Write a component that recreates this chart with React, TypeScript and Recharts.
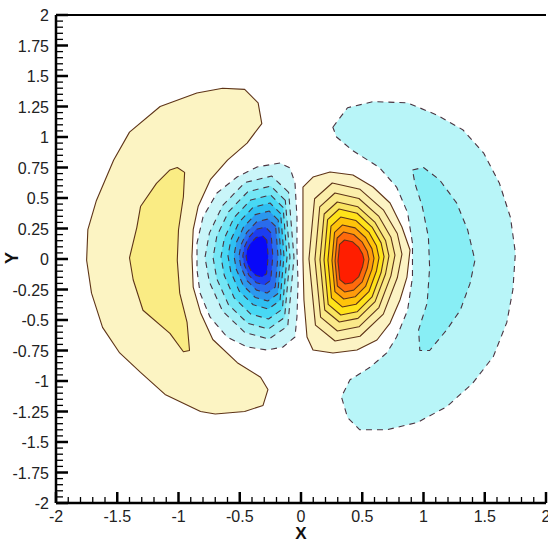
import React from 'react';
import { ScatterChart, Scatter, XAxis, YAxis, ReferenceLine } from 'recharts';

type P = [number, number];

// ---- tick values ----
const xTicks = [-2, -1.9, -1.8, -1.7, -1.6, -1.5, -1.4, -1.3, -1.2, -1.1, -1, -0.9, -0.8, -0.7, -0.6, -0.5, -0.4, -0.3, -0.2, -0.1, 0,
  0.1, 0.2, 0.3, 0.4, 0.5, 0.6, 0.7, 0.8, 0.9, 1, 1.1, 1.2, 1.3, 1.4, 1.5, 1.6, 1.7, 1.8, 1.9, 2];
const xLabels = [-2, -1.5, -1, -0.5, 0, 0.5, 1, 1.5, 2];
const yTicks = [-2, -1.95, -1.9, -1.85, -1.8, -1.75, -1.7, -1.65, -1.6, -1.55, -1.5, -1.45, -1.4, -1.35, -1.3, -1.25, -1.2, -1.15, -1.1, -1.05,
  -1, -0.95, -0.9, -0.85, -0.8, -0.75, -0.7, -0.65, -0.6, -0.55, -0.5, -0.45, -0.4, -0.35, -0.3, -0.25, -0.2, -0.15, -0.1, -0.05, 0,
  0.05, 0.1, 0.15, 0.2, 0.25, 0.3, 0.35, 0.4, 0.45, 0.5, 0.55, 0.6, 0.65, 0.7, 0.75, 0.8, 0.85, 0.9, 0.95, 1,
  1.05, 1.1, 1.15, 1.2, 1.25, 1.3, 1.35, 1.4, 1.45, 1.5, 1.55, 1.6, 1.65, 1.7, 1.75, 1.8, 1.85, 1.9, 1.95, 2];
const yLabels = [-2, -1.75, -1.5, -1.25, -1, -0.75, -0.5, -0.25, 0, 0.25, 0.5, 0.75, 1, 1.25, 1.5, 1.75, 2];

// ---- outer crescents ----
const leftCrescentOuter: P[] = [[-0.85, 1.36], [-0.64, 1.40], [-0.46, 1.39], [-0.35, 1.28], [-0.32, 1.11], [-0.44, 0.95], [-0.60, 0.81], [-0.74, 0.65], [-0.84, 0.43], [-0.88, 0.24], [-0.89, 0.02], [-0.88, -0.23], [-0.82, -0.44], [-0.72, -0.66], [-0.52, -0.85], [-0.33, -0.97], [-0.27, -1.07], [-0.31, -1.20], [-0.46, -1.25], [-0.70, -1.27], [-0.82, -1.25], [-1.11, -1.11], [-1.31, -0.93], [-1.48, -0.77], [-1.62, -0.56], [-1.71, -0.28], [-1.75, -0.01], [-1.74, 0.24], [-1.67, 0.48], [-1.53, 0.81], [-1.40, 1.04], [-1.15, 1.25]];
const leftCrescentInner: P[] = [[-1.01, 0.75], [-0.95, 0.71], [-0.96, 0.51], [-1.00, 0.24], [-1.01, -0.01], [-0.99, -0.28], [-0.93, -0.52], [-0.91, -0.75], [-0.96, -0.76], [-1.07, -0.61], [-1.29, -0.42], [-1.37, -0.17], [-1.40, 0.01], [-1.34, 0.26], [-1.31, 0.43], [-1.18, 0.62], [-1.07, 0.73]];
const rightCrescentOuter: P[] = [[0.26, 1.08], [0.38, 1.24], [0.59, 1.29], [0.87, 1.28], [1.11, 1.18], [1.32, 1.06], [1.49, 0.87], [1.62, 0.62], [1.71, 0.34], [1.75, 0.05], [1.73, -0.25], [1.68, -0.52], [1.57, -0.80], [1.40, -1.02], [1.19, -1.21], [0.95, -1.34], [0.70, -1.40], [0.48, -1.40], [0.38, -1.30], [0.33, -1.13], [0.40, -0.99], [0.56, -0.89], [0.70, -0.77], [0.78, -0.64], [0.87, -0.42], [0.91, -0.15], [0.91, 0.13], [0.87, 0.38], [0.78, 0.59], [0.64, 0.75], [0.42, 0.89], [0.29, 1.00]];
const rightCrescentInner: P[] = [[0.91, 0.73], [1.00, 0.75], [1.13, 0.65], [1.27, 0.46], [1.36, 0.24], [1.42, -0.01], [1.38, -0.20], [1.30, -0.42], [1.19, -0.58], [1.05, -0.75], [0.97, -0.75], [0.96, -0.58], [1.03, -0.36], [1.05, -0.07], [1.04, 0.18], [0.99, 0.43], [0.93, 0.62]];

// ---- positive (right) blob levels ----
const pos1: P[] = [[0.016, 0.590], [0.098, 0.672], [0.237, 0.713], [0.424, 0.689], [0.588, 0.590], [0.727, 0.459], [0.824, 0.262], [0.890, 0.074], [0.865, -0.148], [0.808, -0.336], [0.727, -0.525], [0.620, -0.664], [0.457, -0.746], [0.261, -0.770], [0.098, -0.746], [0.049, -0.639], [0.024, -0.336], [0.016, -0.008], [0.016, 0.344]];
const pos2: P[] = [[0.111, 0.494], [0.255, 0.623], [0.482, 0.571], [0.672, 0.403], [0.786, 0.209], [0.824, 0.040], [0.786, -0.154], [0.672, -0.452], [0.482, -0.633], [0.278, -0.672], [0.118, -0.542], [0.065, 0.001]];
const pos3: P[] = [[0.153, 0.428], [0.277, 0.541], [0.473, 0.496], [0.636, 0.349], [0.734, 0.179], [0.767, 0.032], [0.734, -0.138], [0.636, -0.398], [0.473, -0.556], [0.297, -0.590], [0.160, -0.477], [0.114, -0.002]];
const pos4: P[] = [[0.189, 0.369], [0.296, 0.467], [0.465, 0.428], [0.605, 0.300], [0.690, 0.152], [0.718, 0.025], [0.690, -0.123], [0.605, -0.349], [0.465, -0.487], [0.313, -0.516], [0.194, -0.418], [0.155, -0.005]];
const pos5: P[] = [[0.217, 0.323], [0.311, 0.410], [0.458, 0.375], [0.580, 0.262], [0.654, 0.132], [0.678, 0.019], [0.654, -0.111], [0.580, -0.311], [0.458, -0.433], [0.325, -0.459], [0.222, -0.372], [0.188, -0.007]];
const pos6: P[] = [[0.245, 0.270], [0.324, 0.344], [0.449, 0.315], [0.554, 0.219], [0.616, 0.108], [0.637, 0.012], [0.616, -0.098], [0.554, -0.268], [0.449, -0.371], [0.337, -0.393], [0.249, -0.319], [0.220, -0.010]];
const pos7: P[] = [[0.274, 0.218], [0.339, 0.279], [0.442, 0.255], [0.527, 0.176], [0.579, 0.085], [0.596, 0.006], [0.579, -0.085], [0.527, -0.225], [0.442, -0.310], [0.349, -0.328], [0.277, -0.267], [0.253, -0.012]];
const pos8: P[] = [[0.295, 0.172], [0.347, 0.221], [0.430, 0.201], [0.500, 0.138], [0.541, 0.064], [0.555, 0.000], [0.541, -0.074], [0.500, -0.187], [0.430, -0.255], [0.356, -0.270], [0.297, -0.221], [0.278, -0.015]];
const pos9: P[] = [[0.315, 0.120], [0.355, 0.156], [0.419, 0.142], [0.472, 0.095], [0.503, 0.040], [0.514, -0.006], [0.503, -0.061], [0.472, -0.144], [0.419, -0.194], [0.361, -0.205], [0.317, -0.169], [0.302, -0.017]];

// ---- negative (left) blob levels ----
const neg1: P[] = [[-0.171, 0.787], [-0.359, 0.754], [-0.522, 0.672], [-0.686, 0.541], [-0.800, 0.344], [-0.849, 0.131], [-0.849, -0.090], [-0.824, -0.279], [-0.743, -0.475], [-0.604, -0.639], [-0.441, -0.721], [-0.278, -0.746], [-0.147, -0.721], [-0.049, -0.639], [-0.033, -0.475], [-0.024, -0.197], [-0.033, 0.074], [-0.033, 0.344], [-0.049, 0.623], [-0.090, 0.746]];
const neg2: P[] = [[-0.101, 0.546], [-0.239, 0.680], [-0.457, 0.627], [-0.639, 0.440], [-0.748, 0.212], [-0.784, 0.012], [-0.748, -0.188], [-0.639, -0.429], [-0.457, -0.603], [-0.261, -0.656], [-0.108, -0.549], [-0.057, 0.012]];
const neg3: P[] = [[-0.128, 0.481], [-0.247, 0.598], [-0.435, 0.551], [-0.592, 0.387], [-0.687, 0.188], [-0.718, 0.012], [-0.687, -0.164], [-0.592, -0.375], [-0.435, -0.527], [-0.266, -0.574], [-0.134, -0.480], [-0.090, 0.012]];
const neg4: P[] = [[-0.146, 0.423], [-0.249, 0.525], [-0.410, 0.484], [-0.545, 0.342], [-0.626, 0.169], [-0.653, 0.017], [-0.626, -0.136], [-0.545, -0.319], [-0.410, -0.451], [-0.265, -0.492], [-0.152, -0.411], [-0.114, 0.017]];
const neg5: P[] = [[-0.166, 0.372], [-0.253, 0.459], [-0.390, 0.424], [-0.505, 0.303], [-0.573, 0.155], [-0.596, 0.025], [-0.573, -0.106], [-0.505, -0.262], [-0.390, -0.375], [-0.267, -0.410], [-0.171, -0.340], [-0.139, 0.025]];
const neg6: P[] = [[-0.186, 0.319], [-0.259, 0.393], [-0.374, 0.364], [-0.470, 0.260], [-0.528, 0.135], [-0.547, 0.025], [-0.528, -0.086], [-0.470, -0.219], [-0.374, -0.315], [-0.271, -0.344], [-0.190, -0.285], [-0.163, 0.025]];
const neg7: P[] = [[-0.207, 0.267], [-0.268, 0.328], [-0.363, 0.304], [-0.442, 0.219], [-0.490, 0.116], [-0.506, 0.025], [-0.490, -0.067], [-0.442, -0.176], [-0.363, -0.255], [-0.277, -0.279], [-0.210, -0.230], [-0.188, 0.025]];
const neg8: P[] = [[-0.245, 0.215], [-0.291, 0.262], [-0.365, 0.243], [-0.426, 0.177], [-0.463, 0.096], [-0.475, 0.025], [-0.463, -0.047], [-0.426, -0.132], [-0.365, -0.194], [-0.299, -0.213], [-0.247, -0.175], [-0.230, 0.025]];
const neg9: P[] = [[-0.279, 0.155], [-0.313, 0.189], [-0.367, 0.176], [-0.412, 0.128], [-0.439, 0.071], [-0.448, 0.021], [-0.439, -0.030], [-0.412, -0.091], [-0.367, -0.135], [-0.318, -0.148], [-0.281, -0.121], [-0.268, 0.021]];

const posLevels = [pos1, pos2, pos3, pos4, pos5, pos6, pos7, pos8, pos9];
const posFills = ['#fcf3c4', '#fbeeaa', '#fae98a', '#f9e460', '#ffe31a', '#ffc40a', '#ff9b0c', '#ff6a0c', '#ff1e00'];
const negLevels = [neg1, neg2, neg3, neg4, neg5, neg6, neg7, neg8, neg9];
const negFills = ['#c9f5f9', '#a0eff7', '#74e6f5', '#48d8f4', '#2fc0f2', '#2c98ee', '#2a6cec', '#1c3ef0', '#0808f8'];

const SOLID = '#5e3418';
const DASHED = '#4a3440';

type Contour = { id: string; pts: P[]; fill: string; dashed: boolean };

const contours: Contour[] = [
  { id: 'lco', pts: leftCrescentOuter, fill: '#fcf4c3', dashed: false },
  { id: 'lci', pts: leftCrescentInner, fill: '#faec84', dashed: false },
  { id: 'rco', pts: rightCrescentOuter, fill: '#b8f5f8', dashed: true },
  { id: 'rci', pts: rightCrescentInner, fill: '#88eef5', dashed: true },
  ...posLevels.map((pts, i) => ({ id: 'p' + i, pts, fill: posFills[i], dashed: false })),
  ...negLevels.map((pts, i) => ({ id: 'n' + i, pts, fill: negFills[i], dashed: true })),
];

const FONT = '"Liberation Sans", Arial, Helvetica, sans-serif';
const fmt = (v: number) => String(Number(v.toFixed(2)));
const isIn = (arr: number[], v: number) => arr.some((a) => Math.abs(a - v) < 1e-6);

const XTick = (props: any) => {
  const { x, y, payload } = props;
  const v = payload.value as number;
  const major = isIn(xLabels, v);
  return (
    <g>
      <line x1={x} y1={y} x2={x} y2={y - (major ? 11 : 6)} stroke="#000" strokeWidth={major ? 2.5 : 1.3} />
      {major && (
        <text x={x} y={y + 19} textAnchor="middle" fontSize={16} fontFamily={FONT} fill="#222">{fmt(v)}</text>
      )}
    </g>
  );
};

const YTick = (props: any) => {
  const { x, y, payload } = props;
  const v = payload.value as number;
  const major = isIn(yLabels, v);
  return (
    <g>
      <line x1={x} y1={y} x2={x + (major ? 12 : 7)} y2={y} stroke="#000" strokeWidth={major ? 2.5 : 1.3} />
      {major && (
        <text x={x - 7} y={y + 6} textAnchor="end" fontSize={16} fontFamily={FONT} fill="#222">{fmt(v)}</text>
      )}
    </g>
  );
};

const closedShape = (fill: string, dashed: boolean) => (props: any) => {
  const pts: { x: number; y: number }[] = props.points || [];
  const d = pts.map((p, i) => `${i ? 'L' : 'M'}${p.x},${p.y}`).join(' ') + ' Z';
  return (
    <path
      d={d}
      fill={fill}
      stroke={dashed ? DASHED : SOLID}
      strokeWidth={1.1}
      strokeDasharray={dashed ? '6 5' : undefined}
      strokeLinejoin="round"
    />
  );
};

export default function App() {
  return (
    <div style={{ position: 'absolute', left: 0, top: 0, width: 548, height: 540, background: '#fff', overflow: 'hidden' }}>
      <ScatterChart width={548} height={540} margin={{ top: 15, right: 2, bottom: 0, left: 0 }}>
        <XAxis
          type="number"
          dataKey="x"
          domain={[-2, 2]}
          ticks={xTicks}
          interval={0}
          allowDataOverflow
          height={37}
          tickSize={0}
          tickMargin={0}
          tickLine={false}
          axisLine={{ stroke: '#000', strokeWidth: 2.5 }}
          tick={<XTick />}
        />
        <YAxis
          type="number"
          dataKey="y"
          domain={[-2, 2]}
          ticks={yTicks}
          interval={0}
          allowDataOverflow
          width={56}
          tickSize={0}
          tickMargin={0}
          tickLine={false}
          axisLine={{ stroke: '#000', strokeWidth: 2.5 }}
          tick={<YTick />}
        />
        {contours.map((c) => (
          <Scatter
            key={c.id}
            name={c.id}
            data={c.pts.map(([x, y]) => ({ x, y }))}
            isAnimationActive={false}
            fill={c.fill}
            line={closedShape(c.fill, c.dashed)}
            lineType="joint"
            shape={() => <g />}
          />
        ))}
        <ReferenceLine y={2} stroke="#000" strokeWidth={2} ifOverflow="visible" />
      </ScatterChart>
      <div style={{ position: 'absolute', left: 301, top: 533, transform: 'translate(-50%, -50%)', font: `bold 17px ${FONT}`, color: '#111', lineHeight: '15px' }}>X</div>
      <div style={{ position: 'absolute', left: 12, top: 258, transform: 'translate(-50%, -50%) rotate(-90deg)', font: `bold 18px ${FONT}`, color: '#111', lineHeight: '18px' }}>Y</div>
    </div>
  );
}
